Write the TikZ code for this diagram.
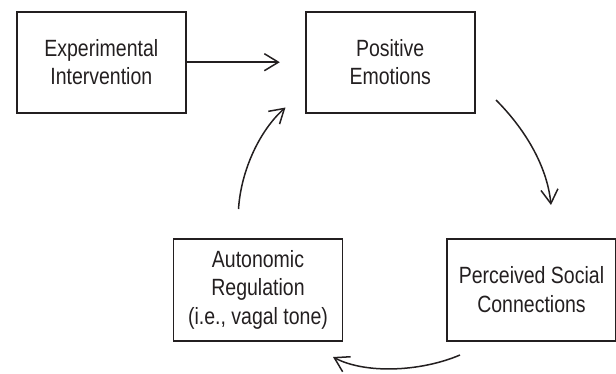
\documentclass[tikz,border=0pt]{standalone}
\usepackage{fontspec}
\setmainfont{Liberation Sans}[FakeStretch=0.83]
\usetikzlibrary{arrows.meta}
\definecolor{ink}{HTML}{231F20}
\begin{document}
\begin{tikzpicture}[x=1pt,y=-1pt,
  box/.style={draw=ink, line width=1.8pt, minimum width=169pt, minimum height=101pt,
              inner sep=0pt, align=center, text=ink, font=\fontsize{23.5}{28.5}\selectfont},
  link/.style={draw=ink, line width=1.5pt, -{Straight Barb[length=14pt,width=17pt]}}]

\useasboundingbox (0,0) rectangle (616,373);

\node (exp) at (101.3,62.2) [box] {Experimental\\Intervention};
\node (pos) at (390.2,62.2) [box] {Positive\\Emotions};
\node (auto) at (258,289.7) [box, minimum height=102pt] {Autonomic\\Regulation\\(i.e., vagal tone)};
\node (perc) at (531.5,289.7) [box, minimum height=102pt] {Perceived Social\\Connections};

\coordinate (pos-out) at (496,100);
\coordinate (perc-in) at (551,205);
\coordinate (perc-out) at (460,355);
\coordinate (auto-in) at (333,357);
\coordinate (auto-out) at (238.5,209);
\coordinate (pos-in) at (285.5,107.5);

\draw [link, shorten >=25pt] (exp) -- (pos);
\draw [link] (pos-out) .. controls (524,128) and (547,165) .. (perc-in);
\draw [link] (perc-out) .. controls (420,372) and (365,374) .. (auto-in);
\draw [link] (auto-out) .. controls (241,170) and (260,130) .. (pos-in);

\end{tikzpicture}
\end{document}
